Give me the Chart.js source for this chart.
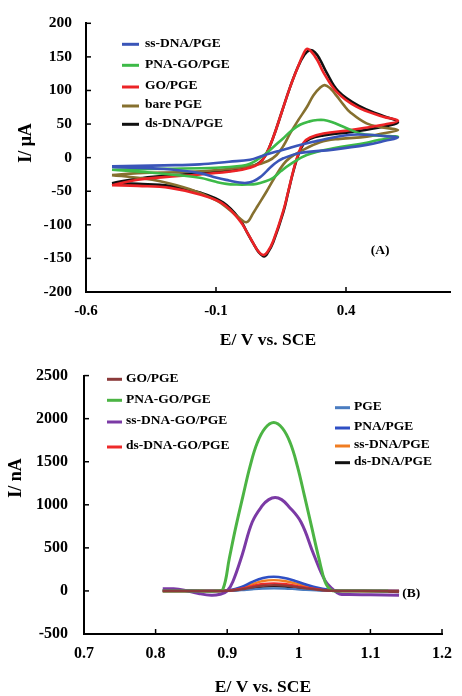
<!DOCTYPE html>
<html>
<head>
<meta charset="utf-8">
<script src="https://cdn.jsdelivr.net/npm/chart.js@4.4.1/dist/chart.umd.min.js"></script>
<style>
  html, body { margin: 0; padding: 0; background: #fff; }
  #wrap { position: relative; width: 462px; height: 696px; }
  .box { position: absolute; left: 0; width: 462px; }
  #boxA { top: 0; height: 350px; }
  #boxB { top: 350px; height: 346px; }
</style>
</head>
<body>
<div id="wrap">
  <div class="box" id="boxA"><canvas id="graficoCV" width="462" height="350"></canvas></div>
  <div class="box" id="boxB"><canvas id="graficoDPV" width="462" height="346"></canvas></div>
</div>
<script>
const FONTE = '"Liberation Serif", "Times New Roman", serif';
Chart.defaults.font.family = FONTE;
Chart.defaults.font.weight = 'bold';
Chart.defaults.color = '#000';

// ---- (A) voltametria ciclica: ticks
const ticksXCV = [-0.6, -0.1, 0.4];
const ticksYCV = [-200, -150, -100, -50, 0, 50, 100, 150, 200];

// cada curva: ida (-0.5 -> 0.6) e volta (0.6 -> -0.5)
const ssDnaE = [-0.5, -0.3, -0.162, -0.05, 0.031, 0.08, 0.133, 0.18, 0.223, 0.29, 0.351, 0.42, 0.479, 0.55, 0.6,
  0.55, 0.479, 0.351, 0.223, 0.159, 0.125, 0.095, 0.07, 0.044, 0.018, -0.01, -0.05, -0.097, -0.162, -0.3, -0.5];
const ssDnaI = [-13, -11.5, -10, -6, -3, 3, 9, 14, 19, 25, 30, 34, 34, 32, 30,
  25, 19, 12, 7, -1, -9, -20, -29, -35, -37.5, -37, -34, -30, -23, -17, -14];

const pnaGoE = [-0.5, -0.3, -0.1, 0.0, 0.031, 0.063, 0.095, 0.127, 0.159, 0.19, 0.223, 0.26, 0.29, 0.315, 0.345, 0.39, 0.454, 0.52, 0.6,
  0.52, 0.479, 0.351, 0.249, 0.185, 0.15, 0.12, 0.085, 0.056, 0.02, -0.02, -0.06, -0.1, -0.162, -0.25, -0.354, -0.5];
const pnaGoI = [-18, -16.5, -15, -12, -9, -2, 7, 18, 29, 40, 49, 54, 56, 56, 53, 46, 36, 33, 31,
  26, 22, 14, 4, -10, -20, -30, -36, -39, -40, -40, -39, -36, -30, -26, -22, -18];

const goE = [-0.5, -0.4, -0.3, -0.16, -0.03, 0.03, 0.065, 0.09, 0.12, 0.153, 0.185, 0.215, 0.237, 0.25, 0.268, 0.29, 0.313, 0.364, 0.44, 0.543, 0.6,
  0.543, 0.415, 0.313, 0.262, 0.236, 0.215, 0.197, 0.178, 0.159, 0.12, 0.1, 0.082, 0.062, 0.044, 0.018, -0.008, -0.072, -0.162, -0.277, -0.4, -0.5];
const goI = [-41, -33, -29, -25, -20, -15, -9, 3, 30, 68, 105, 135, 155, 162, 157, 145, 127, 98, 76, 61, 55,
  49, 41, 36, 30, 22, 4, -20, -50, -79, -124, -139, -145, -139, -128, -110, -94, -69, -55, -45, -42, -41];

const bareE = [-0.5, -0.4, -0.2, -0.05, 0.05, 0.1, 0.133, 0.16, 0.185, 0.215, 0.249, 0.275, 0.3, 0.318, 0.34, 0.364, 0.39, 0.415, 0.479, 0.54, 0.6,
  0.54, 0.48, 0.377, 0.3, 0.223, 0.185, 0.159, 0.125, 0.095, 0.06, 0.044, 0.018, -0.01, -0.05, -0.097, -0.2, -0.315, -0.4, -0.5];
const bareI = [-26, -23, -21, -17, -11, -5, 4, 18, 36, 55, 75, 93, 104, 108, 103, 92, 79, 68, 51, 45, 41,
  36, 31, 28, 23, 9, 0, -10, -30, -50, -72, -82, -96, -90, -77, -64, -47, -35, -30, -26];

const dsDnaE = [-0.5, -0.4, -0.3, -0.16, -0.03, 0.03, 0.065, 0.09, 0.12, 0.153, 0.185, 0.215, 0.24, 0.26, 0.28, 0.3, 0.325, 0.37, 0.45, 0.543, 0.6,
  0.543, 0.415, 0.313, 0.262, 0.236, 0.215, 0.197, 0.178, 0.159, 0.12, 0.1, 0.085, 0.065, 0.044, 0.018, -0.008, -0.072, -0.162, -0.277, -0.4, -0.5];
const dsDnaI = [-38, -31, -27, -23, -19, -14, -8, 3, 30, 68, 105, 135, 153, 160, 157, 146, 127, 99, 77, 62, 53,
  46, 38, 33, 28, 20, 2, -21, -51, -81, -126, -141, -147, -141, -128, -110, -92, -67, -52, -42, -39, -38];

// ---- (B) DPV: ticks
const ticksXDPV = [0.7, 0.8, 0.9, 1, 1.1, 1.2];
const ticksYDPV = [-500, 0, 500, 1000, 1500, 2000, 2500];

const pnaGoDpvE = [0.81, 0.85, 0.885, 0.894, 0.903, 0.912, 0.922, 0.932, 0.942, 0.953, 0.965, 0.977, 0.988, 0.998, 1.008, 1.018, 1.028, 1.037, 1.045, 1.055, 1.1, 1.125];
const pnaGoDpvI = [0, 0, 0, 20, 380, 740, 1100, 1450, 1720, 1890, 1955, 1890, 1720, 1450, 1100, 740, 380, 100, 10, 0, 0, 0];

const ssDnaGoDpvE = [0.81, 0.825, 0.84, 0.86, 0.878, 0.89, 0.9, 0.908, 0.921, 0.935, 0.949, 0.958, 0.967, 0.976, 0.985, 1.003, 1.021, 1.037, 1.048, 1.057, 1.07, 1.1, 1.14];
const ssDnaGoDpvI = [25, 25, 8, -30, -50, -38, 0, 110, 420, 800, 990, 1060, 1085, 1060, 990, 800, 420, 115, 15, -35, -42, -45, -50];

// curvas pequenas, mesmo eixo de potencial
const potencialDPV = [0.81, 0.85, 0.89, 0.905, 0.92, 0.935, 0.95, 0.965, 0.98, 0.995, 1.01, 1.025, 1.04, 1.055, 1.09, 1.14];
const goDpvI     = [0, 0, 0, 3, 18, 42, 60, 68, 62, 47, 30, 15, 5, 0, 0, 0];
const dsDnaGoDpvI = [0, 0, 0, 5, 25, 55, 80, 88, 80, 60, 38, 20, 7, 0, 0, 0];
const pgeDpvI    = [-3, -3, -2, 0, 8, 18, 26, 30, 27, 20, 12, 6, 2, 0, 0, 0];
const pnaDpvI    = [8, 4, 2, 10, 45, 105, 150, 165, 150, 115, 75, 40, 15, 3, 2, 0];
const ssDnaDpvI  = [0, 0, 0, 8, 35, 80, 115, 125, 115, 88, 55, 28, 10, 2, 0, -5];
const dsDnaDpvI  = [0, 0, 0, 2, 14, 33, 50, 55, 50, 38, 24, 12, 4, 0, 0, -15];

function juntaPontos(e, i) {
  return e.map((v, k) => ({ x: v, y: i[k] }));
}

// ticks para dentro do grafico
const marcasInternas = {
  id: 'marcasInternas',
  afterDraw(chart) {
    const ctx = chart.ctx;
    const area = chart.chartArea;
    const sx = chart.scales.x, sy = chart.scales.y;
    ctx.save();
    ctx.strokeStyle = '#000';
    ctx.lineWidth = 1.5;
    sx.ticks.forEach(t => {
      const px = sx.getPixelForValue(t.value);
      ctx.beginPath(); ctx.moveTo(px, area.bottom); ctx.lineTo(px, area.bottom - 5); ctx.stroke();
    });
    sy.ticks.forEach(t => {
      const py = sy.getPixelForValue(t.value);
      ctx.beginPath(); ctx.moveTo(area.left, py); ctx.lineTo(area.left + 5, py); ctx.stroke();
    });
    ctx.restore();
  }
};

// legenda solta dentro da area + titulo do eixo y
const legendaLivre = {
  id: 'legendaLivre',
  afterDraw(chart, args, opts) {
    const ctx = chart.ctx;
    ctx.save();
    ctx.font = 'bold ' + opts.tamanho + 'px ' + FONTE;
    ctx.textBaseline = 'middle';
    ctx.textAlign = 'left';
    opts.grupos.forEach(g => {
      g.itens.forEach((idx, k) => {
        const ds = chart.data.datasets[idx];
        const y = g.ys[k];
        ctx.strokeStyle = ds.borderColor;
        ctx.lineWidth = 3;
        ctx.beginPath(); ctx.moveTo(g.x, y + 1); ctx.lineTo(g.x + g.traco, y + 1); ctx.stroke();
        ctx.fillStyle = '#000';
        ctx.fillText(ds.label, g.xTexto, y);
      });
    });
    if (opts.rotulo) {
      ctx.fillStyle = '#000';
      ctx.fillText(opts.rotulo.texto,
        chart.scales.x.getPixelForValue(opts.rotulo.x),
        chart.scales.y.getPixelForValue(opts.rotulo.y));
    }
    if (opts.tituloY) {
      const t = opts.tituloY;
      ctx.font = 'bold ' + t.tamanho + 'px ' + FONTE;
      ctx.textAlign = 'center';
      ctx.translate(t.x, t.y);
      ctx.rotate(-Math.PI / 2);
      ctx.fillText(t.texto, 0, 0);
    }
    ctx.restore();
  }
};

function eixo(cfg) {
  return {
    type: 'linear',
    min: cfg.min,
    max: cfg.max,
    afterBuildTicks: s => { s.ticks = cfg.ticks.map(v => ({ value: v })); },
    afterFit: cfg.ajuste,
    grid: { drawOnChartArea: false, drawTicks: false },
    border: { color: '#000', width: 2 },
    ticks: { padding: cfg.pad, font: { size: cfg.fonte }, callback: v => String(v) },
    title: cfg.titulo
      ? { display: true, text: cfg.titulo, font: { size: cfg.fonteTitulo, lineHeight: 1 }, padding: cfg.padTitulo }
      : { display: false }
  };
}

// ---------- grafico (A)
new Chart(document.getElementById('graficoCV'), {
  type: 'scatter',
  data: {
    datasets: [
      { label: 'ss-DNA/PGE', data: juntaPontos(ssDnaE, ssDnaI), borderColor: '#3a55b8' },
      { label: 'PNA-GO/PGE', data: juntaPontos(pnaGoE, pnaGoI), borderColor: '#3dba48' },
      { label: 'GO/PGE', data: juntaPontos(goE, goI), borderColor: '#ec2326' },
      { label: 'bare PGE', data: juntaPontos(bareE, bareI), borderColor: '#86702f' },
      { label: 'ds-DNA/PGE', data: juntaPontos(dsDnaE, dsDnaI), borderColor: '#111111' }
    ].map(d => Object.assign(d, { showLine: true, pointRadius: 0, borderWidth: 2.6, tension: 0.4, fill: false }))
  },
  options: {
    responsive: false,
    animation: false,
    layout: { padding: { top: 21, right: 12, left: 0, bottom: 0 } },
    plugins: {
      legend: { display: false },
      tooltip: { enabled: false },
      legendaLivre: {
        tamanho: 13.5,
        grupos: [{ itens: [0, 1, 2, 3, 4], x: 122, traco: 17, xTexto: 145, ys: [43.3, 64.3, 86, 105, 123.3] }],
        rotulo: { texto: '(A)', x: 0.495, y: -138 },
        tituloY: { texto: 'I/ \u03bcA', x: 26, y: 143, tamanho: 18 }
      }
    },
    scales: {
      x: eixo({ min: -0.6, max: 0.8, ticks: ticksXCV, ajuste: s => { s.height = 58; }, pad: 10, fonte: 15,
        titulo: 'E/ V vs. SCE', fonteTitulo: 17.5, padTitulo: { top: 0, bottom: 1 } }),
      y: eixo({ min: -200, max: 200, ticks: ticksYCV, ajuste: s => { s.width = 86; }, pad: 14, fonte: 15.5 })
    }
  },
  plugins: [marcasInternas, legendaLivre]
});

// ---------- grafico (B)
new Chart(document.getElementById('graficoDPV'), {
  type: 'scatter',
  data: {
    datasets: [
      { label: 'GO/PGE', data: juntaPontos(potencialDPV, goDpvI), borderColor: '#8b3a3a', borderWidth: 2.4 },
      { label: 'PNA-GO/PGE', data: juntaPontos(pnaGoDpvE, pnaGoDpvI), borderColor: '#4cb444', borderWidth: 3 },
      { label: 'ss-DNA-GO/PGE', data: juntaPontos(ssDnaGoDpvE, ssDnaGoDpvI), borderColor: '#7b3aa5', borderWidth: 3 },
      { label: 'ds-DNA-GO/PGE', data: juntaPontos(potencialDPV, dsDnaGoDpvI), borderColor: '#ee2a2a', borderWidth: 2.4 },
      { label: 'PGE', data: juntaPontos(potencialDPV, pgeDpvI), borderColor: '#4a7cc0', borderWidth: 2.2 },
      { label: 'PNA/PGE', data: juntaPontos(potencialDPV, pnaDpvI), borderColor: '#2f4fc4', borderWidth: 2.6 },
      { label: 'ss-DNA/PGE', data: juntaPontos(potencialDPV, ssDnaDpvI), borderColor: '#f07d22', borderWidth: 2.4 },
      { label: 'ds-DNA/PGE', data: juntaPontos(potencialDPV, dsDnaDpvI), borderColor: '#111111', borderWidth: 2.2 }
    ].map(d => Object.assign(d, { showLine: true, pointRadius: 0, tension: 0.4, fill: false }))
  },
  options: {
    responsive: false,
    animation: false,
    layout: { padding: { top: 21, right: 11, left: 0, bottom: 0 } },
    plugins: {
      legend: { display: false },
      tooltip: { enabled: false },
      legendaLivre: {
        tamanho: 13.5,
        grupos: [
          { itens: [0, 1, 2, 3], x: 107, traco: 15, xTexto: 126, ys: [28.3, 49.3, 71, 96] },
          { itens: [4, 5, 6, 7], x: 335, traco: 15, xTexto: 354, ys: [56.7, 77, 95, 111.7] }
        ],
        rotulo: { texto: '(B)', x: 1.1445, y: -34 },
        tituloY: { texto: 'I/ nA', x: 16, y: 128, tamanho: 18 }
      }
    },
    scales: {
      x: eixo({ min: 0.7, max: 1.2, ticks: ticksXDPV, ajuste: s => { s.height = 62; }, pad: 10, fonte: 16,
        titulo: 'E/ V vs. SCE', fonteTitulo: 17.5, padTitulo: { top: 0, bottom: 0 } }),
      y: eixo({ min: -500, max: 2500, ticks: ticksYDPV, ajuste: s => { s.width = 84; }, pad: 16, fonte: 16 })
    }
  },
  plugins: [marcasInternas, legendaLivre]
});
</script>
</body>
</html>
